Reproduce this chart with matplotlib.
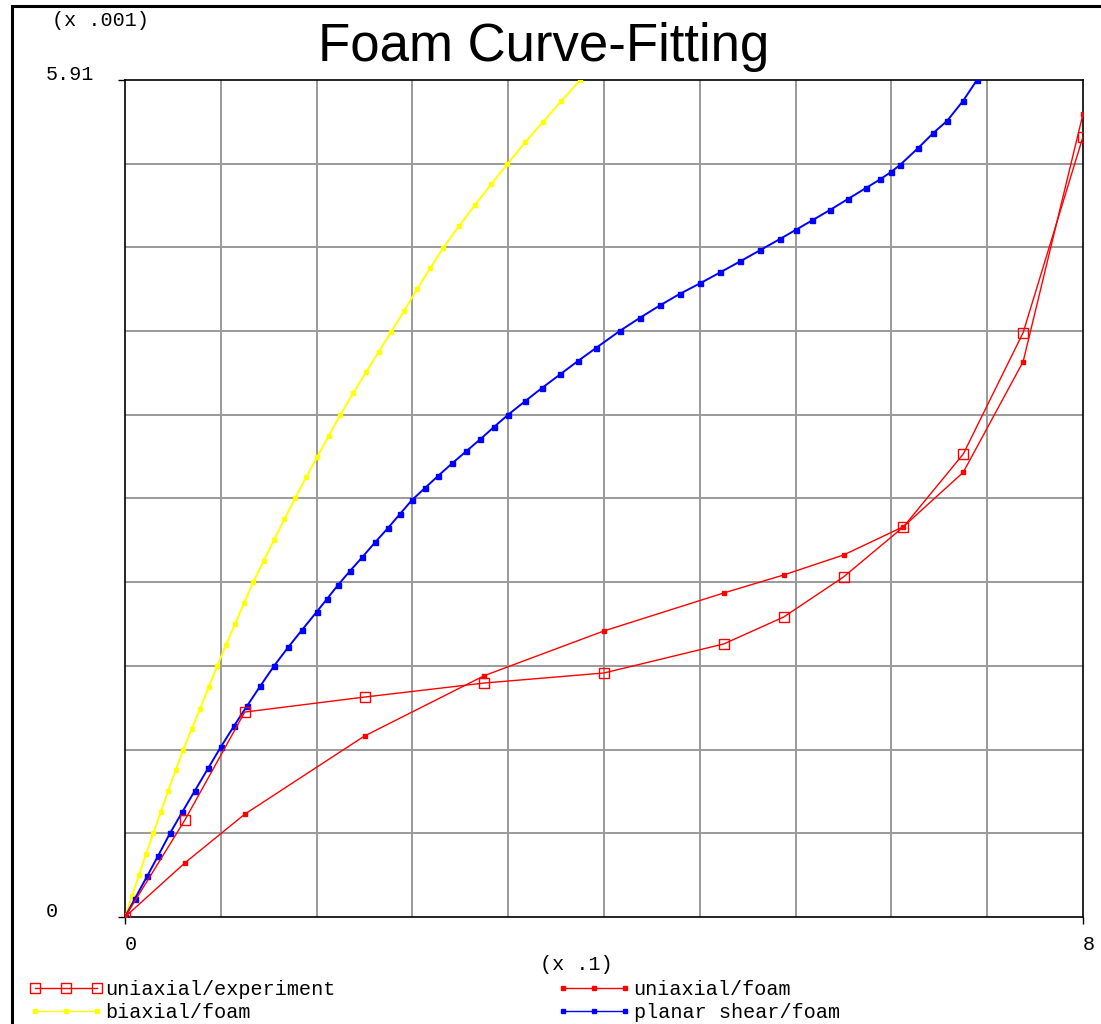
import matplotlib

matplotlib.use("Agg")
import matplotlib.pyplot as plt
import numpy as np
from matplotlib.lines import Line2D
from matplotlib.patches import Rectangle

# values in plotted units: strain (x .1), stress (x .001)
STRAIN = [0, 0.5, 1, 2, 3, 4, 5, 5.5, 6, 6.5, 7, 7.5, 8]
UNI_EXP = [0, 0.685, 1.447, 1.553, 1.652, 1.723, 1.928, 2.118, 2.401, 2.754, 3.269, 4.126, 5.510]
UNI_FOAM = [0, 0.382, 0.726, 1.278, 1.704, 2.020, 2.288, 2.415, 2.556, 2.756, 3.140, 3.921, 5.670]

BIAX_X = [0, 0.0585, 0.1169, 0.1754, 0.2363, 0.2973, 0.3591, 0.4225, 0.4868, 0.5562,
          0.6263, 0.6981, 0.7708, 0.8434, 0.9186, 0.9937, 1.0714, 1.1574, 1.2443, 1.3319,
          1.4196, 1.5115, 1.6033, 1.6994, 1.7954, 1.9040, 2.0125, 2.1186, 2.2247, 2.3299,
          2.4384, 2.5470, 2.6580, 2.7891, 2.9228, 3.0564, 3.1925, 3.3403, 3.4906, 3.6409,
          3.7996]
BIAX_Y = [0, 0.1483, 0.2966, 0.4449, 0.5910, 0.7379, 0.8862, 1.0345, 1.1820, 1.3275,
          1.4687, 1.6205, 1.7730, 1.9206, 2.0689, 2.2172, 2.3640, 2.5138, 2.6621, 2.8104,
          2.9551, 3.1034, 3.2446, 3.3943, 3.5426, 3.6965, 3.8462, 3.9910, 4.1336, 4.2791,
          4.4309, 4.5791, 4.7246, 4.8793, 5.0275, 5.1723, 5.3156, 5.4688, 5.6136, 5.7584,
          5.9067]

SHEAR_X = [0, 0.0835, 0.1837, 0.2756, 0.3758, 0.4760, 0.5846, 0.6931, 0.8000, 0.9102,
           1.0188, 1.1273, 1.2443, 1.3612, 1.4781, 1.6000, 1.6868, 1.7787, 1.8789, 1.9791,
           2.0877, 2.1962, 2.2965, 2.3967, 2.5052, 2.6138, 2.7307, 2.8476, 2.9645, 3.0814,
           3.1983, 3.3403, 3.4823, 3.6326, 3.7829, 3.9332, 4.1336, 4.3006, 4.4676, 4.6347,
           4.8000, 4.9687, 5.1357, 5.3027, 5.4697, 5.6000, 5.7370, 5.8873, 6.0376, 6.1879,
           6.3048, 6.3967, 6.4718, 6.6221, 6.7474, 6.8643, 6.9979, 7.1148]
SHEAR_Y = [0, 0.1306, 0.2860, 0.4307, 0.5910, 0.7379, 0.8932, 1.0486, 1.2004, 1.3487,
           1.4899, 1.6276, 1.7724, 1.9030, 2.0266, 2.1537, 2.2455, 2.3443, 2.4432, 2.5385,
           2.6444, 2.7468, 2.8457, 2.9445, 3.0292, 3.1140, 3.2022, 3.2870, 3.3717, 3.4600,
           3.5461, 3.6414, 3.7354, 3.8307, 3.9260, 4.0178, 4.1393, 4.2311, 4.3186, 4.4006,
           4.4732, 4.5509, 4.6286, 4.7077, 4.7874, 4.8510, 4.9181, 4.9922, 5.0699, 5.1476,
           5.2076, 5.2606, 5.3100, 5.4283, 5.5338, 5.6207, 5.7619, 5.9102]

X_MAX = 8
Y_MAX = 5.91
LABELS = ["uniaxial/experiment", "uniaxial/foam", "biaxial/foam", "planar shear/foam"]

W, H = 1101, 1024
MONO = "Liberation Mono"

fig = plt.figure(figsize=(W / 100, H / 100), dpi=100)
ax = fig.add_axes([125 / W, 1 - 917 / H, 958 / W, 837 / H])

ax.plot(BIAX_X, BIAX_Y, color="#ffff00", lw=1.4, marker="s", ms=3.2, zorder=3)
ax.plot(SHEAR_X, SHEAR_Y, color="#0000ff", lw=1.4, marker="s", ms=3.6, zorder=3)
ax.plot(STRAIN, UNI_FOAM, color="#ff0000", lw=1.0, marker="s", ms=3.0, zorder=4)
ax.plot(STRAIN, UNI_EXP, color="#ff0000", lw=1.0, marker="s", ms=7.5,
        mfc="none", mec="#ff0000", mew=1.0, zorder=4)

ax.set_xlim(0, X_MAX)
ax.set_ylim(0, Y_MAX)
ax.set_xticks([0, X_MAX])
ax.set_xticklabels(["0", "8"])
ax.set_yticks([0, Y_MAX])
ax.set_yticklabels(["0", "5.91"])
ax.set_xticks(np.linspace(0, X_MAX, 11), minor=True)
ax.set_yticks(np.linspace(0, Y_MAX, 11), minor=True)
ax.grid(True, which="minor", color="#9a9a9a", lw=1.4)
ax.tick_params(which="minor", length=0)
ax.tick_params(which="major", direction="out", length=5, width=1, color="black")
ax.tick_params(axis="y", pad=52)
ax.tick_params(axis="x", pad=8)
for lab in ax.get_yticklabels():
    lab.set_fontfamily(MONO)
    lab.set_fontsize(14.5)
    lab.set_horizontalalignment("left")
    lab.set_verticalalignment("baseline")
for lab in ax.get_xticklabels():
    lab.set_fontfamily(MONO)
    lab.set_fontsize(14.5)
    lab.set_horizontalalignment("left")
for sp in ax.spines.values():
    sp.set_color("black")
    sp.set_linewidth(1.2)

fig.text(318 / W, 1 - 61 / H, "Foam Curve-Fitting", fontsize=38,
         family="Liberation Sans", ha="left", va="baseline")
fig.text(52 / W, 1 - 20 / H, "(x .001)", fontsize=14.5, family=MONO,
         ha="left", va="center")
fig.text(540 / W, 1 - 965 / H, "(x .1)", fontsize=14.5, family=MONO,
         ha="left", va="center")

fig.add_artist(Rectangle((11.5 / W, -0.1), 1.2, 1.1 - 5.5 / H,
                         transform=fig.transFigure, fill=False,
                         ec="black", lw=2.2, clip_on=False))

h_exp = Line2D([], [], color="#ff0000", lw=1.0, marker="s", ms=7.5,
               mfc="none", mec="#ff0000", mew=1.0)
h_foam = Line2D([], [], color="#ff0000", lw=1.0, marker="s", ms=3.0)
h_biax = Line2D([], [], color="#ffff00", lw=1.0, marker="s", ms=3.0)
h_shear = Line2D([], [], color="#0000ff", lw=1.0, marker="s", ms=3.0)

leg_kw = dict(loc="upper left", frameon=False, numpoints=3, borderpad=0,
              borderaxespad=0, handlelength=3.7, handletextpad=0.1,
              labelspacing=0.18, prop={"family": MONO, "size": 14.5})
leg1 = fig.legend([h_exp, h_biax], [LABELS[0], LABELS[2]],
                  bbox_to_anchor=(29 / W, 1 - 980 / H), **leg_kw)
leg2 = fig.legend([h_foam, h_shear], [LABELS[1], LABELS[3]],
                  bbox_to_anchor=(557 / W, 1 - 980 / H), **leg_kw)

fig.savefig("out.png", dpi=100)
